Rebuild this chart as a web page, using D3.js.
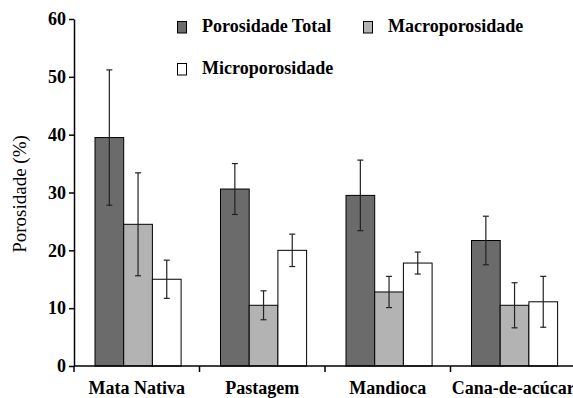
<!DOCTYPE html>
<html>
<head>
<meta charset="utf-8">
<script src="https://cdn.jsdelivr.net/npm/d3@7"></script>
</head>
<body style="margin:0">
<script>
// categories (land use) and the three series, mean and error
var categories = ["Mata Nativa", "Pastagem", "Mandioca", "Cana-de-ac\u00facar"];
var seriesNames = ["Porosidade Total", "Macroporosidade", "Microporosidade"];

var total     = [39.5, 30.6, 29.5, 21.7];
var totalErr  = [11.7, 4.4, 6.1, 4.2];
var macro     = [24.5, 10.5, 12.8, 10.5];
var macroErr  = [8.9, 2.5, 2.7, 3.9];
var micro     = [15.0, 20.0, 17.8, 11.1];
var microErr  = [3.3, 2.8, 1.9, 4.4];

var yTicks = [0, 10, 20, 30, 40, 50, 60];

var colors = ["#6b6b6b", "#b3b3b3", "#ffffff"];

const margin = {top: 19, right: -3, bottom: 32, left: 74},
    width = 573 - margin.left - margin.right,
    height = 398 - margin.top - margin.bottom;

const root = d3.select("body")
  .append("svg")
    .attr("width", 573)
    .attr("height", 398)
    .style("font-family", "Liberation Serif");

const svg = root.append("g")
    .attr("transform", `translate(${margin.left},${margin.top})`);

// serif font for a text selection
function serif(sel, size, bold) {
  sel.attr("font-family", "Liberation Serif")
    .style("font-family", "Liberation Serif")
    .attr("font-size", size)
    .attr("font-weight", bold ? "bold" : "normal");
}

// x scale: one band per land use
const x = d3.scaleBand()
  .domain(categories)
  .range([0, width]);

const barW = 28.7;
const x1 = d3.scaleBand()
  .domain(seriesNames)
  .range([0, barW * 3]);

const y = d3.scaleLinear()
  .domain([0, 60])
  .range([height, 0]);

// build rows for the bars
var values = [total, macro, micro];
var errs = [totalErr, macroErr, microErr];
var rows = [];
categories.forEach(function(c, i) {
  seriesNames.forEach(function(s, j) {
    rows.push({cat: c, series: s, idx: j, v: values[j][i], e: errs[j][i]});
  });
});

const groupOffset = 21;

svg.selectAll(".bar")
  .data(rows)
  .join("rect")
    .attr("class", "bar")
    .attr("x", d => x(d.cat) + groupOffset + x1(d.series))
    .attr("y", d => y(d.v))
    .attr("width", x1.bandwidth())
    .attr("height", d => y(0) - y(d.v))
    .attr("fill", d => colors[d.idx])
    .attr("stroke", "#000")
    .attr("stroke-width", 1);

// error bars
const cap = 3;
const eb = svg.selectAll(".err")
  .data(rows)
  .join("g")
    .attr("class", "err")
    .attr("stroke", "#222")
    .attr("stroke-width", 1.2);

eb.append("line")
  .attr("x1", d => x(d.cat) + groupOffset + x1(d.series) + x1.bandwidth() / 2)
  .attr("x2", d => x(d.cat) + groupOffset + x1(d.series) + x1.bandwidth() / 2)
  .attr("y1", d => y(d.v + d.e))
  .attr("y2", d => y(d.v - d.e));

[1, -1].forEach(function(sign) {
  eb.append("line")
    .attr("x1", d => x(d.cat) + groupOffset + x1(d.series) + x1.bandwidth() / 2 - cap)
    .attr("x2", d => x(d.cat) + groupOffset + x1(d.series) + x1.bandwidth() / 2 + cap)
    .attr("y1", d => y(d.v + sign * d.e))
    .attr("y2", d => y(d.v + sign * d.e));
});

// Y axis
const yAxis = svg.append("g")
  .call(d3.axisLeft(y).tickValues(yTicks).tickSize(5).tickPadding(3).tickSizeOuter(0));
yAxis.attr("font-family", "Liberation Serif").attr("font-size", null);
yAxis.select(".domain").attr("stroke", "#000").attr("stroke-width", 1.5);
yAxis.selectAll(".tick line").attr("stroke", "#000").attr("stroke-width", 1.5);
yAxis.selectAll(".tick text")
  .call(serif, 18, true)
  .attr("fill", "#000");

// X axis: ticks at band boundaries
const xAxisG = svg.append("g")
  .attr("transform", `translate(0, ${height})`);
xAxisG.append("line")
  .attr("x1", 0).attr("x2", width)
  .attr("stroke", "#000").attr("stroke-width", 1.5);
xAxisG.selectAll(".xtick")
  .data(categories)
  .join("line")
    .attr("class", "xtick")
    .attr("x1", d => x(d)).attr("x2", d => x(d))
    .attr("y1", 0).attr("y2", 6)
    .attr("stroke", "#000").attr("stroke-width", 1.5);
xAxisG.selectAll(".xlabel")
  .data(categories)
  .join("text")
    .attr("class", "xlabel")
    .attr("x", d => x(d) + x.bandwidth() / 2)
    .attr("y", 28)
    .attr("text-anchor", "middle")
    .call(serif, 18, true)
    .text(d => d);

// y label
svg.append("text")
  .attr("transform", "rotate(-90)")
  .attr("x", -(194 - margin.top))
  .attr("y", -margin.left + 26)
  .attr("text-anchor", "middle")
  .call(serif, 19, false)
  .text("Porosidade (%)");

// legend
var legendPos = [[177, 21], [363, 21], [177, 63]];
const lg = root.append("g");
seriesNames.forEach(function(s, i) {
  lg.append("rect")
    .attr("x", legendPos[i][0] + 0.5)
    .attr("y", legendPos[i][1] + 0.5)
    .attr("width", 9)
    .attr("height", 11.5)
    .attr("fill", colors[i])
    .attr("stroke", "#000")
    .attr("stroke-width", 1);
  lg.append("text")
    .attr("x", legendPos[i][0] + 25)
    .attr("y", legendPos[i][1] + 11)
    .call(serif, 18, true)
    .text(s);
});
</script>
</body>
</html>
